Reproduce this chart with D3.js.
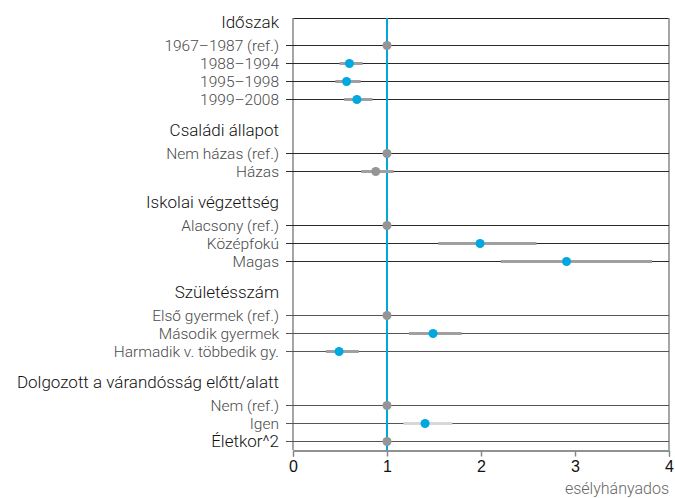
<!DOCTYPE html>
<html>
<head>
<meta charset="utf-8">
<script src="https://cdn.jsdelivr.net/npm/d3@7"></script>
<style>
  body { margin: 0; background: #fff; }
  text { font-family: "Roboto", "Liberation Sans", sans-serif; }
</style>
</head>
<body>
<div id="chart"></div>
<script>
// csoportok és sorok
const groups = ["Időszak", "Családi állapot", "Iskolai végzettség", "Születésszám", "Dolgozott a várandósság előtt/alatt", null];
const groupSlots = [0, 6, 10, 15, 20, 22];

const labels = [
  "1967–1987 (ref.)", "1988–1994", "1995–1998", "1999–2008",
  "Nem házas (ref.)", "Házas",
  "Alacsony (ref.)", "Középfokú", "Magas",
  "Első gyermek (ref.)", "Második gyermek", "Harmadik v. többedik gy.",
  "Nem (ref.)", "Igen",
  "Életkor^2"
];
const slots = [0, 1, 2, 3, 6, 7, 10, 11, 12, 15, 16, 17, 20, 21, 22];
const estimates = [1, 0.60, 0.57, 0.68, 1, 0.88, 1, 1.99, 2.91, 1, 1.49, 0.49, 1, 1.405, 1];
const lower = [null, 0.495, 0.45, 0.545, null, 0.725, null, 1.545, 2.21, null, 1.235, 0.35, null, 1.175, null];
const upper = [null, 0.74, 0.72, 0.845, null, 1.07, null, 2.59, 3.82, null, 1.795, 0.70, null, 1.695, null];
const significant = [false, true, true, true, false, false, false, true, true, false, true, true, false, true, false];
const xTicks = [0, 1, 2, 3, 4];

const width = 675, height = 498;
const plotLeft = 293, plotRight = 669, plotTop = 18, plotBottom = 450;

const x = d3.scaleLinear().domain([0, 4]).range([plotLeft, plotRight]);
const y = d3.scaleLinear().domain([-1.5, 22.5]).range([plotTop, plotBottom]);

const svg = d3.select("#chart").append("svg")
  .attr("width", width)
  .attr("height", height);

const rows = labels.map((l, i) => ({
  label: l, slot: slots[i], est: estimates[i], lo: lower[i], hi: upper[i], sig: significant[i]
}));

// keret
svg.append("line")
  .attr("x1", plotLeft).attr("x2", plotRight).attr("y1", plotTop + 0.5).attr("y2", plotTop + 0.5)
  .attr("stroke", "#222").attr("stroke-width", 1);
svg.append("line")
  .attr("x1", plotLeft).attr("x2", plotLeft).attr("y1", plotTop).attr("y2", plotBottom)
  .attr("stroke", "#888").attr("stroke-width", 1.5);
svg.append("line")
  .attr("x1", plotRight).attr("x2", plotRight).attr("y1", plotTop).attr("y2", plotBottom)
  .attr("stroke", "#888").attr("stroke-width", 1.5);

// sorvonalak
svg.selectAll(".row-line")
  .data(rows)
  .enter()
  .append("line")
  .attr("class", "row-line")
  .attr("x1", plotLeft - 7)
  .attr("x2", plotRight)
  .attr("y1", d => y(d.slot) + 0.5)
  .attr("y2", d => y(d.slot) + 0.5)
  .attr("stroke", d => d.slot >= 15 ? "#555" : "#2a2a2a")
  .attr("stroke-width", 1);

// x tengely
const xAxis = svg.append("g")
  .attr("transform", `translate(0,${plotBottom + 0.5})`)
  .call(d3.axisBottom(x).tickValues(xTicks).tickFormat(d3.format("d")).tickSize(6).tickPadding(4));
xAxis.select(".domain").attr("stroke", "#222");
xAxis.selectAll(".tick line").attr("stroke", "#888").attr("stroke-width", 1.5);
xAxis.selectAll(".tick text")
  .attr("font-size", "16px")
  .attr("fill", "#111")
  .style("font-family", "'Liberation Sans', Arial, sans-serif");

svg.append("text")
  .attr("x", plotRight)
  .attr("y", 494)
  .attr("text-anchor", "end")
  .attr("font-size", "16px")
  .attr("font-weight", 300)
  .attr("fill", "#666")
  .text("esélyhányados");

// referencia vonal
svg.append("line")
  .attr("x1", x(1)).attr("x2", x(1)).attr("y1", plotTop).attr("y2", plotBottom)
  .attr("stroke", "#00a8dc").attr("stroke-width", 2);

// konfidencia intervallumok
svg.selectAll(".ci")
  .data(rows.filter(d => d.lo != null))
  .enter()
  .append("line")
  .attr("class", "ci")
  .attr("x1", d => x(d.lo))
  .attr("x2", d => x(d.hi))
  .attr("y1", d => y(d.slot) + 0.5)
  .attr("y2", d => y(d.slot) + 0.5)
  .attr("stroke", d => d.slot === 21 ? "#d8d8d8" : "#a0a0a0")
  .attr("stroke-width", 3);

// pontok
svg.selectAll(".pt")
  .data(rows)
  .enter()
  .append("circle")
  .attr("class", "pt")
  .attr("cx", d => x(d.est))
  .attr("cy", d => y(d.slot) + 0.5)
  .attr("r", 4.5)
  .attr("fill", d => d.sig ? "#00a8e0" : "#959595");

// sorcímkék
svg.selectAll(".lbl")
  .data(rows)
  .enter()
  .append("text")
  .attr("class", "lbl")
  .attr("x", 279)
  .attr("y", d => y(d.slot))
  .attr("dy", "0.38em")
  .attr("text-anchor", "end")
  .attr("font-size", d => d.label === "Életkor^2" ? "17px" : "15.5px")
  .attr("font-weight", 300)
  .attr("fill", d => d.label === "Életkor^2" ? "#111" : "#4a4a4a")
  .text(d => d.label);

// csoportcímek
svg.selectAll(".grp")
  .data(groups.map((g, i) => ({ name: g, slot: groupSlots[i] })).filter(d => d.name))
  .enter()
  .append("text")
  .attr("class", "grp")
  .attr("x", 279)
  .attr("y", d => y(d.slot) - 23)
  .attr("dy", "0.38em")
  .attr("text-anchor", "end")
  .attr("font-size", "17px")
  .attr("font-weight", 300)
  .attr("fill", "#111")
  .text(d => d.name);
</script>
</body>
</html>
